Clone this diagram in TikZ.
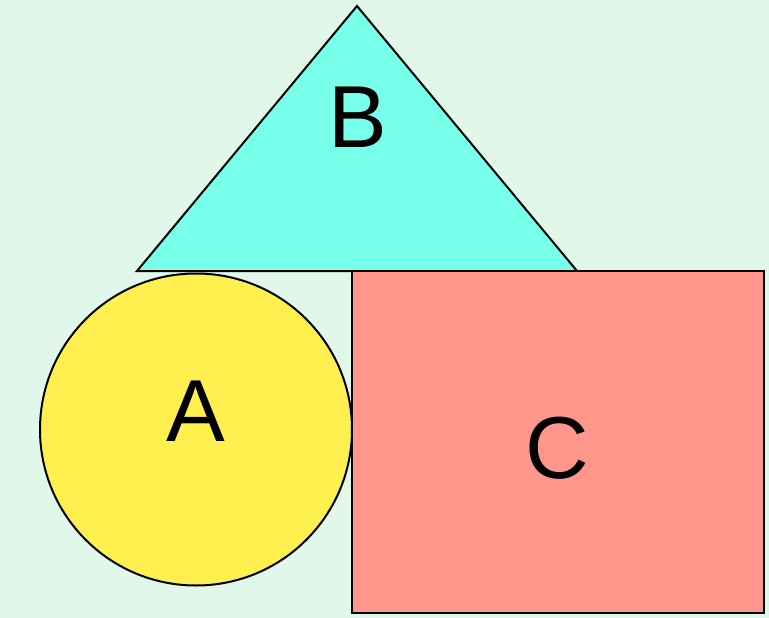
\documentclass[tikz,border=0pt]{standalone}
\usepackage{fontspec}
\setmainfont{Liberation Sans}
\definecolor{bgc}{HTML}{E1F7EA}
\definecolor{triC}{HTML}{78FFE9}
\definecolor{circC}{HTML}{FFF050}
\definecolor{rectC}{HTML}{FF968C}
\begin{document}
\begin{tikzpicture}[x=1pt,y=-1pt,
  shape outline/.style={draw=black,line width=2pt,line join=miter},
  label text/.style={inner sep=0pt,font=\fontsize{88}{88}\selectfont}]
\fill[bgc] (0,0) rectangle (769,618);
\useasboundingbox (0,0) rectangle (769,618);
% triangle B
\draw[shape outline,fill=triC] (357,6) -- (577,271) -- (137,271) -- cycle;
% circle A
\draw[shape outline,fill=circC] (196,429.5) circle[radius=156];
% rectangle C
\draw[shape outline,fill=rectC] (352,271) rectangle (764,613);
\node[label text] (B) at (358,117) {B};
\node[label text] (A) at (196,411) {A};
\node[label text] (C) at (557,448) {C};
\end{tikzpicture}
\end{document}
